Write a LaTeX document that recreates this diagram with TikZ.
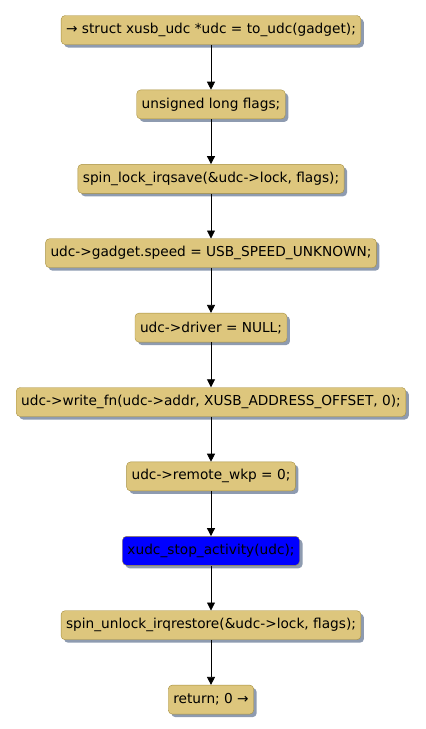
\documentclass[tikz,border=0pt]{standalone}
\usepackage{fontspec}
\setmainfont{DejaVu Sans}
\usepackage{xcolor}
\usetikzlibrary{arrows.meta,positioning,shadows}
\definecolor{StepFill}{HTML}{DDC67D}
\definecolor{StepLine}{HTML}{A68F3E}
\definecolor{StepShadow}{HTML}{8E9BB0}

\begin{document}
\begin{tikzpicture}[
  x=1pt, y=1pt,
  node distance=45pt,
  stepbox/.style={draw=StepLine,rounded corners=4pt,fill=StepFill,inner xsep=5pt,
    minimum height=29pt,font=\fontsize{13.7}{15}\selectfont,
    drop shadow={shadow xshift=3pt,shadow yshift=-3pt,fill=StepShadow,opacity=1}},
  hotbox/.style={stepbox,fill=blue},
  arrow/.style={-{Triangle[length=8pt,width=8pt]},line width=0.8pt}
]
  \useasboundingbox (0,0) rectangle (426,-729);
  \node[stepbox] (getudc) at (211,-30) {→ struct xusb\_udc *udc = to\_udc(gadget);};
  \node[stepbox, below=of getudc] (flags) {unsigned long flags;};
  \node[stepbox, below=of flags] (lock) {spin\_lock\_irqsave(\&udc->lock, flags);};
  \node[stepbox, below=of lock] (speed) {udc->gadget.speed = USB\_SPEED\_UNKNOWN;};
  \node[stepbox, below=of speed] (driver) {udc->driver = NULL;};
  \node[stepbox, below=of driver] (write) {udc->write\_fn(udc->addr, XUSB\_ADDRESS\_OFFSET, 0);};
  \node[stepbox, below=of write] (wkp) {udc->remote\_wkp = 0;};
  \node[hotbox, below=of wkp] (stop) {xudc\_stop\_activity(udc);};
  \node[stepbox, below=of stop] (unlock) {spin\_unlock\_irqrestore(\&udc->lock, flags);};
  \node[stepbox, below=of unlock] (ret) {return; 0 →};

  \draw[arrow] (getudc) -- (flags);
  \draw[arrow] (flags) -- (lock);
  \draw[arrow] (lock) -- (speed);
  \draw[arrow] (speed) -- (driver);
  \draw[arrow] (driver) -- (write);
  \draw[arrow] (write) -- (wkp);
  \draw[arrow] (wkp) -- (stop);
  \draw[arrow] (stop) -- (unlock);
  \draw[arrow] (unlock) -- (ret);
\end{tikzpicture}
\end{document}
